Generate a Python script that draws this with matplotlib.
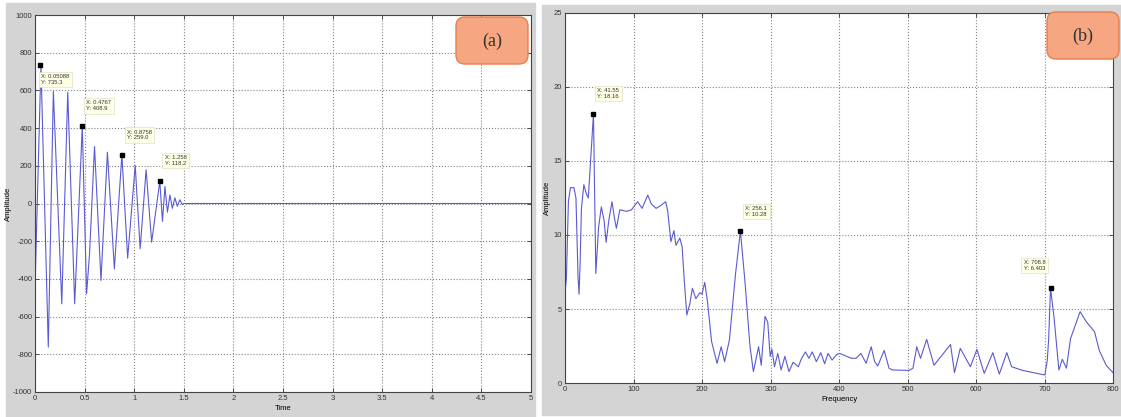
import matplotlib.pyplot as plt
from matplotlib.patches import Rectangle, FancyBboxPatch
from matplotlib.transforms import IdentityTransform

# (a) damped time signal: peak / trough vertices
time = [0, 0.06, 0.134, 0.185, 0.27, 0.33, 0.40, 0.4767, 0.52, 0.55, 0.60, 0.665,
        0.73, 0.80, 0.8758, 0.934, 1.01, 1.06, 1.12, 1.176, 1.258, 1.285, 1.31,
        1.335, 1.36, 1.385, 1.41, 1.435, 1.46, 1.485, 1.5, 5.0]
amp_time = [-450, 735.3, -762, 595, -532, 590, -532, 408.9, -479, -266, 302, -408,
            272, -347, 259.0, -290, 202, -240, 179, -205, 118.2, -95, 90,
            -46, 45, -25, 30, -15, 20, -5, 0, 0]

# (b) spectrum
freq = [0, 2, 5, 8, 13, 16, 19, 20.5, 22, 24, 27.5, 31, 34, 41.55, 45, 49, 53, 57, 60,
        64, 68.6, 72, 75, 80, 90, 97, 106, 112.6, 120.8, 126, 133, 140, 147, 150,
        154.6, 159, 162, 167.6, 171, 174, 177.8, 182, 186, 191, 197, 200, 204, 208,
        214, 222, 228, 233, 240, 249, 256.1, 263, 270, 275, 282.6, 286.5, 292, 296,
        299.5, 302, 305.8, 310.6, 315.5, 321, 327, 333, 340.6, 345.4, 351, 356, 361,
        367, 373.4, 379, 384, 390, 396, 401, 418, 425, 432, 439.6, 447, 452, 456.5,
        466, 473, 478, 502, 508, 513.5, 519, 528, 538.7, 562.8, 568.6, 577, 591.8,
        601.4, 612, 624.6, 634, 645, 652, 668, 700.5, 704, 706, 708.8, 714, 721,
        726, 732, 738, 752, 761, 773, 780, 790, 800]
amp_freq = [6.2, 7.0, 12.3, 13.2, 13.2, 12.5, 7.2, 6.0, 8.0, 11.8, 13.4, 12.8, 12.5,
            18.16, 7.4, 10.5, 11.9, 11.0, 9.5, 11.0, 12.25, 11.2, 10.45, 11.7, 11.6,
            11.7, 12.25, 11.8, 12.7, 12.1, 11.8, 12.0, 12.25, 11.6, 9.55, 10.3, 9.3,
            9.8, 9.2, 7.0, 4.6, 5.3, 6.4, 5.7, 6.1, 6.0, 6.8, 5.5, 2.8, 1.33, 2.45,
            1.44, 2.9, 7.4, 10.28, 6.7, 2.5, 0.77, 2.45, 1.2, 4.5, 4.1, 1.8, 2.3, 1.1,
            2.0, 0.88, 1.8, 0.77, 1.4, 1.1, 1.67, 2.1, 1.67, 2.1, 1.44, 2.05, 1.3, 2.0,
            1.55, 1.9, 2.0, 1.67, 1.67, 2.0, 1.33, 2.45, 1.45, 1.15, 2.2, 1.0, 0.88,
            0.85, 1.0, 2.45, 1.67, 2.95, 1.2, 2.6, 0.7, 2.34, 1.1, 2.27, 0.65, 2.05,
            0.6, 2.05, 1.1, 0.85, 0.54, 1.5, 2.9, 6.403, 4.4, 0.88, 1.6, 1.0, 3.0,
            4.82, 4.14, 3.47, 2.2, 1.2, 0.7]

# data tips: (x, y, label, offset in pixels)
tips_a = [(0.05088, 735.3, "X: 0.05088\nY: 735.3", (1, -9)),
          (0.4767, 408.9, "X: 0.4767\nY: 408.9", (4, 26)),
          (0.8758, 259.0, "X: 0.8758\nY: 259.0", (5, 25)),
          (1.258, 118.2, "X: 1.258\nY: 118.2", (5, 26))]
tips_b = [(41.55, 18.16, "X: 41.55\nY: 18.16", (4, 26)),
          (256.1, 10.28, "X: 256.1\nY: 10.28", (5, 25)),
          (708.8, 6.403, "X: 708.8\nY: 6.403", (-27, 28))]

plt.rcParams['font.family'] = ['Liberation Sans Narrow', 'Liberation Sans', 'DejaVu Sans']
plt.rcParams['axes.unicode_minus'] = False

W, H = 1121, 417
fig = plt.figure(figsize=(W / 100, H / 100), dpi=100)
fig.patch.set_facecolor('white')

gray = '#d4d4d4'
fig.add_artist(Rectangle((6 / W, 0), (535 - 6) / W, (417 - 3) / H,
                         transform=fig.transFigure, color=gray, zorder=-5))
fig.add_artist(Rectangle((542 / W, 2 / H), (W - 542) / W, (415 - 5) / H,
                         transform=fig.transFigure, color=gray, zorder=-5))

ax1 = fig.add_axes([35 / W, 1 - 392 / H, (531 - 35) / W, (392 - 15) / H])
ax2 = fig.add_axes([565 / W, 1 - 383 / H, (1113 - 565) / W, (383 - 13) / H])

line_color = '#5a5ad2'
ax1.plot(time, amp_time, color=line_color, lw=0.8)
ax2.plot(freq, amp_freq, color=line_color, lw=0.8)

ax1.set_xlim(0, 5)
ax1.set_ylim(-1000, 1000)
ax1.set_xticks([0, 0.5, 1, 1.5, 2, 2.5, 3, 3.5, 4, 4.5, 5])
ax1.set_xticklabels(['0', '0.5', '1', '1.5', '2', '2.5', '3', '3.5', '4', '4.5', '5'])
ax1.set_yticks(range(-1000, 1001, 200))
ax1.set_xlabel('Time', fontsize=5.5, labelpad=2)
ax1.set_ylabel('Amplitude', fontsize=5.5, labelpad=1)

ax2.set_xlim(0, 800)
ax2.set_ylim(0, 25)
ax2.set_xticks(range(0, 801, 100))
ax2.set_yticks(range(0, 26, 5))
ax2.set_xlabel('Frequency', fontsize=5.5, labelpad=2)
ax2.set_ylabel('Amplitude', fontsize=5.5, labelpad=2)

for ax, tips in ((ax1, tips_a), (ax2, tips_b)):
    ax.grid(True, ls=':', color='#858585', lw=0.8)
    ax.tick_params(direction='in', length=3, width=0.6, labelsize=5.5, pad=2,
                   top=True, right=True, colors='#333333')
    for s in ax.spines.values():
        s.set_color('#444444')
        s.set_linewidth(0.8)
    for x, y, label, off in tips:
        ax.plot(x, y, 's', color='black', ms=3.5, zorder=5)
        ax.annotate(label, (x, y), xytext=off, textcoords='offset pixels',
                    ha='left', va='top', fontsize=4.2, color='#333333', zorder=6,
                    bbox=dict(boxstyle='square,pad=0.4', fc='#ffffe6', ec='#d8d8c0', lw=0.4))

# panel labels
for (x0, ytop, txt) in ((456, 17, '(a)'), (1047, 12, '(b)')):
    fig.add_artist(FancyBboxPatch((x0, H - ytop - 47), 72, 47,
                                  boxstyle='round,pad=0,rounding_size=9',
                                  transform=IdentityTransform(),
                                  fc='#f6a681', ec='#e47f4e', lw=1.0, zorder=10))
    fig.text((x0 + 36) / W, 1 - (ytop + 24) / H, txt, ha='center', va='center',
             fontsize=13, family='Liberation Serif', color='#333333', zorder=11)

fig.savefig('out.png', dpi=100)
